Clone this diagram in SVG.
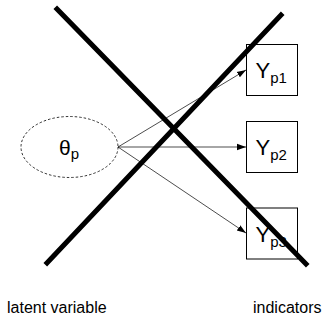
<svg xmlns="http://www.w3.org/2000/svg" width="325" height="325" viewBox="0 0 325 325">
<defs>
<style>
.box{fill:#fff;stroke:#000;stroke-width:1}
.lbl{font-family:"Liberation Sans",Arial,sans-serif;fill:#000}
.conn{stroke:#000;stroke-width:0.7;fill:none;marker-end:url(#ah)}
.cross{stroke:#000;stroke-width:5;stroke-linecap:square}
</style>
<marker id="ah" viewBox="0 0 10 10" refX="10" refY="5" markerWidth="9" markerHeight="9" markerUnits="userSpaceOnUse" orient="auto">
<path d="M0,1.5 L10,5 L0,8.5 z" fill="#000"/>
</marker>
</defs>
<rect width="325" height="325" fill="#fff"/>
<g id="latent">
<ellipse cx="69.5" cy="147" rx="48.5" ry="30.5" fill="#fff" stroke="#000" stroke-width="0.8" stroke-dasharray="2.5,2"/>
<text class="lbl" x="59" y="155" font-size="21">θ<tspan font-size="15" dy="4">p</tspan></text>
</g>
<g id="y1">
<rect class="box" x="246.5" y="44.5" width="51" height="51"/>
<text class="lbl" x="255.5" y="78" font-size="22">Y<tspan font-size="15" dy="5">p1</tspan></text>
</g>
<g id="y2">
<rect class="box" x="246.5" y="121.5" width="51" height="51"/>
<text class="lbl" x="255.5" y="155" font-size="22">Y<tspan font-size="15" dy="5">p2</tspan></text>
</g>
<g id="y3">
<rect class="box" x="246.5" y="208" width="51" height="51"/>
<text class="lbl" x="255.5" y="242" font-size="22">Y<tspan font-size="15" dy="5">p3</tspan></text>
</g>
<g id="connectors">
<line class="conn" x1="118" y1="147" x2="246" y2="70"/>
<line class="conn" x1="118" y1="147" x2="246" y2="147"/>
<line class="conn" x1="118" y1="147" x2="246" y2="233"/>
</g>
<g id="cross">
<line class="cross" x1="57" y1="9" x2="306" y2="264"/>
<line class="cross" x1="281" y1="15" x2="47" y2="263"/>
</g>
<text class="lbl" x="7" y="313" font-size="16">latent variable</text>
<text class="lbl" x="253" y="313" font-size="16">indicators</text>
</svg>
